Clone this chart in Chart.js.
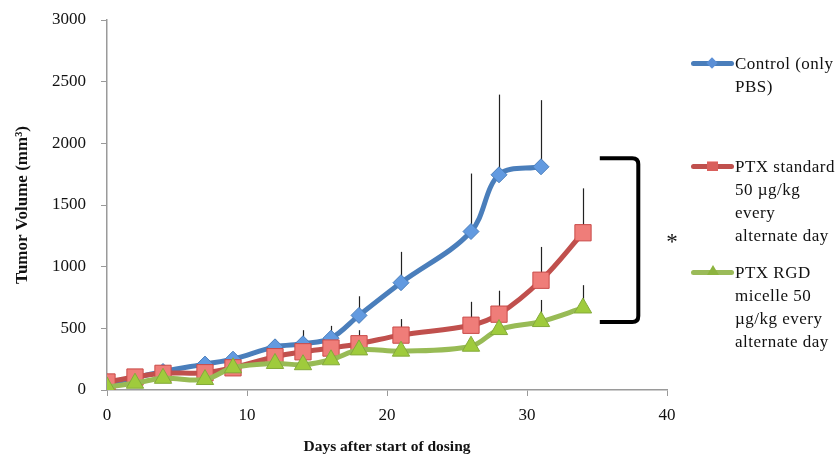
<!DOCTYPE html>
<html>
<head>
<meta charset="utf-8">
<script src="https://cdn.jsdelivr.net/npm/chart.js@4/dist/chart.umd.min.js"></script>
<style>
  html, body { margin: 0; padding: 0; background: #fff; }
  #wrap { position: relative; width: 840px; height: 456px; }
  canvas { position: absolute; left: 0; top: 0; }
  .leg { position: absolute; left: 0; top: 0; width: 840px; height: 456px; pointer-events: none;
         font-family: "Liberation Serif", "Times New Roman", serif; font-size: 17px; color: #111; }
  .item { position: absolute; left: 691px; }
  .sample { position: absolute; left: 0; width: 43px; height: 5px; border-radius: 3px; }
  .mk { position: absolute; }
  .txt { position: absolute; left: 44px; top: 0; line-height: 23px; white-space: nowrap; letter-spacing: 0.5px; }
</style>
</head>
<body>
<div id="wrap">
  <canvas id="c" width="840" height="456"></canvas>
  <div class="leg">
    <div class="item" style="top:52px;">
      <div class="sample" style="top:9px;background:#4a7ebb;"></div>
      <div class="mk" style="left:17px;top:7px;width:8px;height:8px;background:#5b8fd6;transform:rotate(45deg);"></div>
      <div class="txt">Control (only<br>PBS)</div>
    </div>
    <div class="item" style="top:155px;">
      <div class="sample" style="top:9px;background:#c0504d;"></div>
      <div class="mk" style="left:16px;top:6px;width:11px;height:10px;background:#d9605c;border-top:1px solid #f4a9a6;box-sizing:border-box;"></div>
      <div class="txt">PTX standard<br>50 µg/kg<br>every<br>alternate day</div>
    </div>
    <div class="item" style="top:261px;">
      <div class="sample" style="top:9px;background:#9bbb59;"></div>
      <div class="mk" style="left:16px;top:4px;width:0;height:0;border-left:6px solid transparent;border-right:6px solid transparent;border-bottom:10px solid #8db43f;"></div>
      <div class="txt">PTX RGD<br>micelle 50<br>µg/kg every<br>alternate day</div>
    </div>
  </div>
</div>
<script>
// ---- data ----
const daysControl = [0, 2, 4, 7, 9, 12, 14, 16, 18, 21, 26, 28, 31];
const controlMean = [50, 100, 150, 210, 250, 350, 375, 420, 605, 870, 1285, 1745, 1810];
const controlErr  = [0, 0, 10, 10, 15, 60, 110, 100, 155, 250, 470, 650, 540];

const daysPtx = [0, 2, 4, 7, 9, 12, 14, 16, 18, 21, 26, 28, 31, 34];
const ptxMean = [65, 105, 135, 140, 180, 270, 310, 340, 375, 445, 525, 615, 890, 1275];
const ptxErr  = [0, 0, 0, 0, 0, 0, 0, 0, 110, 130, 190, 190, 270, 360];

const daysRgd = [0, 2, 4, 7, 9, 12, 14, 16, 18, 21, 26, 28, 31, 34];
const rgdMean = [25, 55, 95, 85, 180, 215, 205, 245, 325, 315, 355, 490, 555, 665];
const rgdErr  = [0, 0, 0, 0, 0, 0, 0, 0, 0, 0, 0, 0, 175, 185];

const xTicks = [0, 10, 20, 30, 40];
const yTicks = [0, 500, 1000, 1500, 2000, 2500, 3000];
const seriesNames = ['Control (only PBS)', 'PTX standard 50 µg/kg every alternate day', 'PTX RGD micelle 50 µg/kg every alternate day'];

const toPts = (xs, ys) => xs.map((x, i) => ({ x: x, y: ys[i] }));
const errs = [controlErr, ptxErr, rgdErr];

const FONT = '"Liberation Serif", "Times New Roman", serif';

const errorBars = {
  id: 'errorBars',
  beforeDatasetsDraw(chart) {
    const ctx = chart.ctx;
    const ys = chart.scales.y;
    ctx.save();
    ctx.strokeStyle = '#222';
    ctx.lineWidth = 1.2;
    chart.data.datasets.forEach((ds, di) => {
      const meta = chart.getDatasetMeta(di);
      meta.data.forEach((pt, i) => {
        const e = errs[di][i];
        if (!e) return;
        const top = ys.getPixelForValue(ds.data[i].y + e);
        ctx.beginPath();
        ctx.moveTo(Math.round(pt.x) + 0.5, pt.y);
        ctx.lineTo(Math.round(pt.x) + 0.5, top);
        ctx.stroke();
      });
    });
    ctx.restore();
  }
};

const bracket = {
  id: 'bracket',
  afterDraw(chart) {
    const ctx = chart.ctx;
    const xs = chart.scales.x, ys = chart.scales.y;
    const x0 = xs.getPixelForValue(35.2), x1 = xs.getPixelForValue(37.95);
    const y0 = ys.getPixelForValue(1880), y1 = ys.getPixelForValue(552);
    const r = 6;
    ctx.save();
    ctx.strokeStyle = '#000';
    ctx.lineWidth = 4;
    ctx.lineJoin = 'round';
    ctx.beginPath();
    ctx.moveTo(x0, y0);
    ctx.lineTo(x1 - r, y0);
    ctx.quadraticCurveTo(x1, y0, x1, y0 + r);
    ctx.lineTo(x1, y1 - r);
    ctx.quadraticCurveTo(x1, y1, x1 - r, y1);
    ctx.lineTo(x0, y1);
    ctx.stroke();
    ctx.fillStyle = '#111';
    ctx.font = '23px ' + FONT;
    ctx.textAlign = 'center';
    ctx.textBaseline = 'alphabetic';
    ctx.fillText('*', xs.getPixelForValue(40.35), ys.getPixelForValue(1240) + 12);
    ctx.restore();
  }
};

new Chart(document.getElementById('c'), {
  type: 'line',
  data: {
    datasets: [
      {
        label: seriesNames[0],
        data: toPts(daysControl, controlMean),
        borderColor: '#4a7ebb', borderWidth: 5,
        pointStyle: 'rectRot', pointRadius: 8,
        pointBackgroundColor: '#629ae0', pointBorderColor: '#4a7ebb', pointBorderWidth: 1,
        tension: 0.35, order: 3
      },
      {
        label: seriesNames[1],
        data: toPts(daysPtx, ptxMean),
        borderColor: '#c0504d', borderWidth: 5,
        pointStyle: 'rect', pointRadius: 11.5,
        pointBackgroundColor: '#ef7d79', pointBorderColor: '#c94b48', pointBorderWidth: 1,
        tension: 0.35, order: 2
      },
      {
        label: seriesNames[2],
        data: toPts(daysRgd, rgdMean),
        borderColor: '#98bb55', borderWidth: 5,
        pointStyle: 'triangle', pointRadius: 10,
        pointBackgroundColor: '#9fcb3c', pointBorderColor: '#84aa3a', pointBorderWidth: 1,
        tension: 0.35, order: 1
      }
    ]
  },
  options: {
    responsive: false,
    animation: false,
    events: [],
    layout: { padding: { top: 20, right: 173, left: 0, bottom: 0 } },
    plugins: { legend: { display: false }, tooltip: { enabled: false } },
    scales: {
      x: {
        type: 'linear', min: 0, max: 40,
        afterBuildTicks: s => { s.ticks = xTicks.map(v => ({ value: v })); },
        afterFit: s => { s.height = 66; },
        grid: { display: true, drawOnChartArea: false, drawTicks: true, tickLength: 6, color: '#9a9a9a' },
        border: { display: true, color: '#9a9a9a', width: 1.5 },
        ticks: { color: '#111', font: { family: FONT, size: 17 }, padding: 9, maxRotation: 0,
                 callback: v => String(v) },
        title: { display: true, text: 'Days after start of dosing', color: '#111',
                 font: { family: FONT, size: 15.5, weight: 'bold' }, padding: { top: 0, bottom: 0 } }
      },
      y: {
        type: 'linear', min: 0, max: 3000,
        afterBuildTicks: s => { s.ticks = yTicks.map(v => ({ value: v })); },
        afterFit: s => { s.width = 107; s.paddingTop = 0; s.paddingBottom = 0; },
        grid: { display: true, drawOnChartArea: false, drawTicks: true, tickLength: 6, color: '#9a9a9a' },
        border: { display: true, color: '#9a9a9a', width: 1.5 },
        ticks: { color: '#111', font: { family: FONT, size: 17 }, padding: 15,
                 callback: v => String(v) },
        title: { display: true, text: 'Tumor Volume (mm³)', color: '#111',
                 font: { family: FONT, size: 17, weight: 'bold' }, padding: { top: 12, bottom: 0 } }
      }
    }
  },
  plugins: [errorBars, bracket]
});
</script>
</body>
</html>
